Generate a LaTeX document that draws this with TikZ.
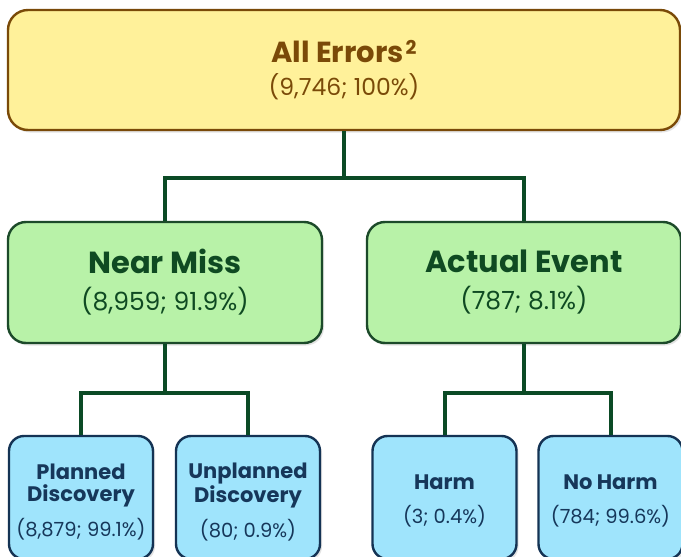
\documentclass[tikz,border=0pt]{standalone}
\usepackage{fontspec}
\setmainfont{Poppins}
\usetikzlibrary{shadows}

\definecolor{rootfill}{HTML}{FFF19A}
\definecolor{rootline}{HTML}{7A4A08}
\definecolor{midfill}{HTML}{B8F2A8}
\definecolor{midline}{HTML}{1C4A2A}
\definecolor{midtext}{HTML}{0F4A22}
\definecolor{leaffill}{HTML}{9FE4FC}
\definecolor{leafline}{HTML}{143354}
\definecolor{leaftext}{HTML}{16375A}
\definecolor{connline}{HTML}{0B4A25}

% font switches: size / distance between baselines
\newcommand{\roottitle}{\fontsize{29}{33}\selectfont\bfseries}
\newcommand{\rootnum}{\fontsize{23.5}{33}\selectfont\mdseries}
\newcommand{\midtitle}{\fontsize{30.5}{37}\selectfont\bfseries}
\newcommand{\midnum}{\fontsize{25}{37}\selectfont\mdseries}
\newcommand{\leaftitle}{\fontsize{21}{22}\selectfont\bfseries}
\newcommand{\leafnum}{\fontsize{19.5}{22}\selectfont\mdseries}
% footnote mark after a title
\newcommand{\notemark}[1]{\hspace{2pt}\raisebox{8.5pt}{\fontsize{19}{19}\selectfont\bfseries #1}}

\tikzset{
  box/.style={draw, line width=2.4pt, align=center, inner sep=0pt,
    drop shadow={opacity=0.22, shadow xshift=2pt, shadow yshift=-2.5pt}},
  rootbox/.style={box, fill=rootfill, draw=rootline, text=rootline,
    font=\roottitle,
    rounded corners=20pt, minimum width=672pt, minimum height=120pt},
  midbox/.style={box, fill=midfill, draw=midline, text=midtext,
    font=\midtitle,
    rounded corners=18pt, minimum width=314pt, minimum height=121pt},
  leafbox/.style={box, fill=leaffill, draw=leafline, text=leaftext,
    font=\leaftitle,
    rounded corners=15pt, minimum width=144pt, minimum height=123pt},
  conn/.style={draw=connline, line width=4pt},
}

\begin{document}
\begin{tikzpicture}[x=1pt, y=-1pt]
  \useasboundingbox[fill=white] (0,0) rectangle (681,557);

  % root
  \node[rootbox] (root) at (344,70)
    {All Errors\notemark{2}\\
     \rootnum (9,746; 100\%)};

  % second level
  \node[midbox] (near) at (165,282.5)
    {Near Miss\\\midnum (8,959; 91.9\%)};
  \node[midbox] (actual) at (524,282.5)
    {Actual Event\\\midnum (787; 8.1\%)};

  % leaves (the struts push the text a little lower in the box)
  \node[leafbox] (planned) at (81,497.5)
    {\rule{0pt}{24.5pt}Planned\\Discovery\\[10pt]\leafnum (8,879; 99.1\%)};
  \node[leafbox] (unplanned) at (248,497.5)
    {\rule{0pt}{24.5pt}Unplanned\\Discovery\\[10pt]\leafnum (80; 0.9\%)};
  \node[leafbox] (harm) at (444.5,497.5)
    {\rule{0pt}{22.5pt}Harm\\[12pt]\leafnum (3; 0.4\%)};
  \node[leafbox] (noharm) at (610.5,497.5)
    {\rule{0pt}{22.5pt}No Harm\\[12pt]\leafnum (784; 99.6\%)};

  % connectors
  \draw[conn] (root.south) -- ++(0,47) coordinate (jroot);
  \draw[conn] (near.north) |- (jroot) -| (actual.north);
  \draw[conn] (near.south) -- ++(0,49) coordinate (jnear);
  \draw[conn] (planned.north) |- (jnear) -| (unplanned.north);
  \draw[conn] (actual.south) -- ++(0,49) coordinate (jactual);
  \draw[conn] (harm.north) |- (jactual) -| (noharm.north);
\end{tikzpicture}
\end{document}
